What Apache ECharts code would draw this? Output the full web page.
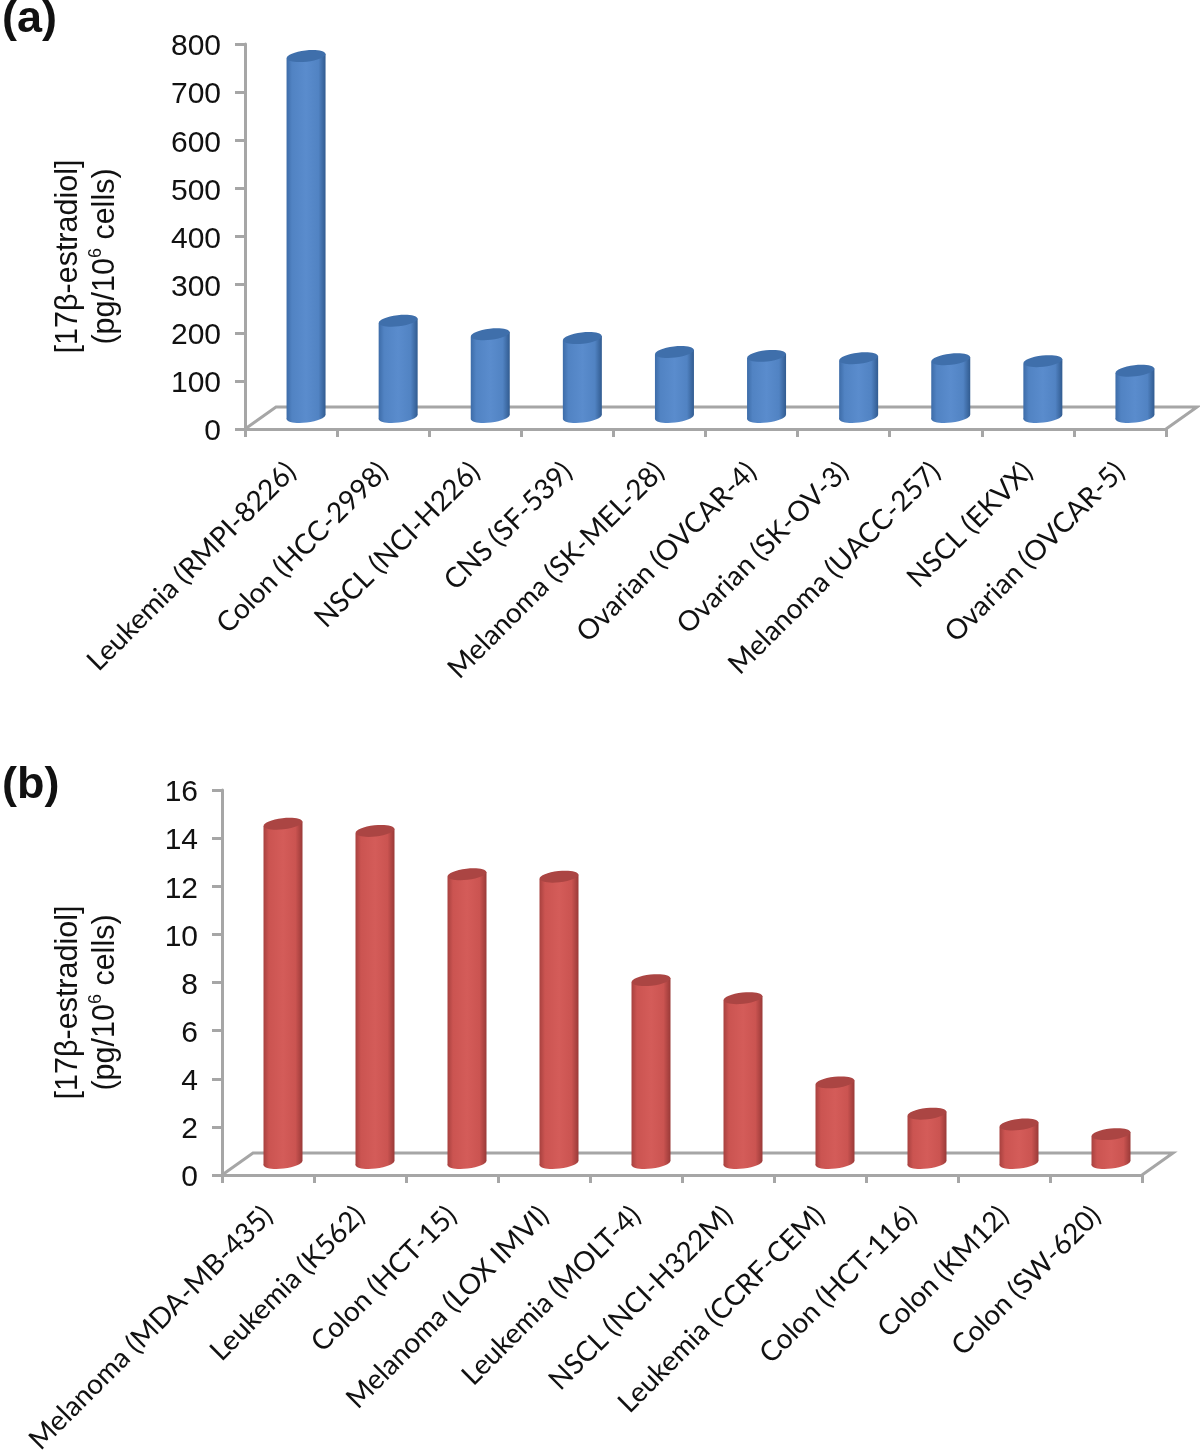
<!DOCTYPE html>
<html>
<head>
<meta charset="utf-8">
<style>html,body{margin:0;padding:0;background:#fff}#c{width:1200px;height:1451px}</style>
<script src="https://cdn.jsdelivr.net/npm/echarts@6/dist/echarts.min.js"></script>
</head>
<body>
<div id="c"></div>
<script>
var categoriesA = ['Leukemia (RMPI-8226)','Colon (HCC-2998)','NSCL (NCI-H226)','CNS (SF-539)','Melanoma (SK-MEL-28)','Ovarian (OVCAR-4)','Ovarian (SK-OV-3)','Melanoma (UACC-257)','NSCL (EKVX)','Ovarian (OVCAR-5)'];
var valuesA = [750, 200, 172, 164, 135, 127, 122, 120, 116, 96];
var categoriesB = ['Melanoma (MDA-MB-435)','Leukemia (K562)','Colon (HCT-15)','Melanoma (LOX IMVI)','Leukemia (MOLT-4)','NSCL (NCI-H322M)','Leukemia (CCRF-CEM)','Colon (HCT-116)','Colon (KM12)','Colon (SW-620)'];
var valuesB = [14.1, 13.8, 12.0, 11.9, 7.6, 6.85, 3.35, 2.05, 1.6, 1.2];
var yTitleLine1 = '[17β-estradiol]';
var yTitleLine2 = '(pg/10{sup|6} cells)';

var AXIS = '#a6a6a6';
var DEPTH_X = 31, DEPTH_Y = 22;

function gradient(c) {
  return new echarts.graphic.LinearGradient(0, 0, 1, 0, [
    {offset: 0, color: c[0]}, {offset: 0.14, color: c[1]}, {offset: 0.5, color: c[2]},
    {offset: 0.82, color: c[1]}, {offset: 1, color: c[3]}
  ]);
}

function cylinder(palette) {
  return function (params, api) {
    var p = api.coord([api.value(0), api.value(1)]);
    var p0 = api.coord([api.value(0), 0]);
    var cx = p[0] + DEPTH_X / 2 - 0.5;
    var topY = p[1] - 12;
    var botY = p0[1] - 12;
    var r = 19.5, ry = 5.6, tilt = 2.2;
    var rot = Math.atan2(tilt * 2, r * 2);
    var fill = gradient(palette);
    return {
      type: 'group',
      children: [
        {type: 'ellipse', shape: {cx: cx, cy: botY, rx: r, ry: ry}, rotation: rot, originX: cx, originY: botY,
          style: {fill: fill}},
        {type: 'polygon', shape: {points: [[cx - r, topY + tilt], [cx + r, topY - tilt], [cx + r, botY - tilt], [cx - r, botY + tilt]]},
          style: {fill: fill}},
        {type: 'ellipse', shape: {cx: cx, cy: topY, rx: r, ry: ry}, rotation: rot, originX: cx, originY: topY,
          style: {fill: palette[4]}}
      ]
    };
  };
}

function floor(params, api) {
  var cs = params.coordSys;
  var x0 = cs.x, x1 = cs.x + cs.width, y = cs.y + cs.height;
  return {
    type: 'polyline',
    shape: {points: [[x0, y], [x0 + DEPTH_X, y - DEPTH_Y], [x1 + DEPTH_X, y - DEPTH_Y], [x1, y]]},
    style: {stroke: AXIS, lineWidth: 3, fill: 'none'}
  };
}

function xAxis(idx, cats, margin) {
  return {
    type: 'category', gridIndex: idx, data: cats, boundaryGap: true,
    axisLine: {show: true, lineStyle: {color: AXIS, width: 3}},
    axisTick: {show: true, alignWithLabel: false, length: 8, lineStyle: {color: AXIS, width: 3}},
    axisLabel: {rotate: 45, interval: 0, margin: margin, color: '#111', fontFamily: 'Lato', fontSize: 28}
  };
}
function yAxis(idx, max, interval, gap) {
  return {
    type: 'value', gridIndex: idx, min: 0, max: max, interval: interval,
    splitLine: {show: false},
    axisLine: {show: true, lineStyle: {color: AXIS, width: 3}},
    axisTick: {show: true, length: 10, lineStyle: {color: AXIS, width: 3}},
    axisLabel: {
      margin: 24, formatter: '{v|{value}}',
      rich: {v: {color: '#111', fontFamily: 'Liberation Sans', fontSize: 30, padding: [6, 0, 0, 0]}}
    },
    name: yTitleLine1 + '\n' + yTitleLine2,
    nameLocation: 'middle', nameGap: gap,
    nameTextStyle: {
      color: '#111', fontFamily: 'Liberation Sans', fontSize: 30.5, lineHeight: 37,
      align: 'center', padding: [0, 40, 0, 0],
      rich: {sup: {fontSize: 18, verticalAlign: 'top', lineHeight: 26, fontFamily: 'Liberation Sans', color: '#111'}}
    }
  };
}
function points(values) { return values.map(function (v, i) { return [i, v]; }); }

var BLUE = ['#3d6ca8', '#5183c3', '#5a8ccd', '#315b90', '#3f6fab'];
var RED = ['#a8413f', '#cb5451', '#d45c59', '#9a3a38', '#ab4543'];

var chart = echarts.init(document.getElementById('c'), null, {renderer: 'canvas'});
chart.setOption({
  animation: false,
  backgroundColor: '#fff',
  title: [
    {text: '(a)', left: -3, top: -8, textStyle: {fontFamily: 'Liberation Sans', fontWeight: 'bold', fontSize: 45, color: '#111'}},
    {text: '(b)', left: -3, top: 758, textStyle: {fontFamily: 'Liberation Sans', fontWeight: 'bold', fontSize: 45, color: '#111'}}
  ],
  grid: [
    {left: 245, top: 44, width: 921, height: 385, containLabel: false, outerBoundsMode: 'none'},
    {left: 222, top: 790, width: 920, height: 385, containLabel: false, outerBoundsMode: 'none'}
  ],
  xAxis: [xAxis(0, categoriesA, 38), xAxis(1, categoriesB, 36)],
  yAxis: [yAxis(0, 800, 100, 121), yAxis(1, 16, 2, 98)],
  series: [
    {type: 'custom', xAxisIndex: 0, yAxisIndex: 0, data: [[0, 0]], renderItem: floor, z: 1, silent: true},
    {type: 'custom', xAxisIndex: 1, yAxisIndex: 1, data: [[0, 0]], renderItem: floor, z: 1, silent: true},
    {type: 'custom', xAxisIndex: 0, yAxisIndex: 0, data: points(valuesA), renderItem: cylinder(BLUE), z: 3, encode: {x: 0, y: 1}},
    {type: 'custom', xAxisIndex: 1, yAxisIndex: 1, data: points(valuesB), renderItem: cylinder(RED), z: 3, encode: {x: 0, y: 1}}
  ]
});
</script>
</body>
</html>
